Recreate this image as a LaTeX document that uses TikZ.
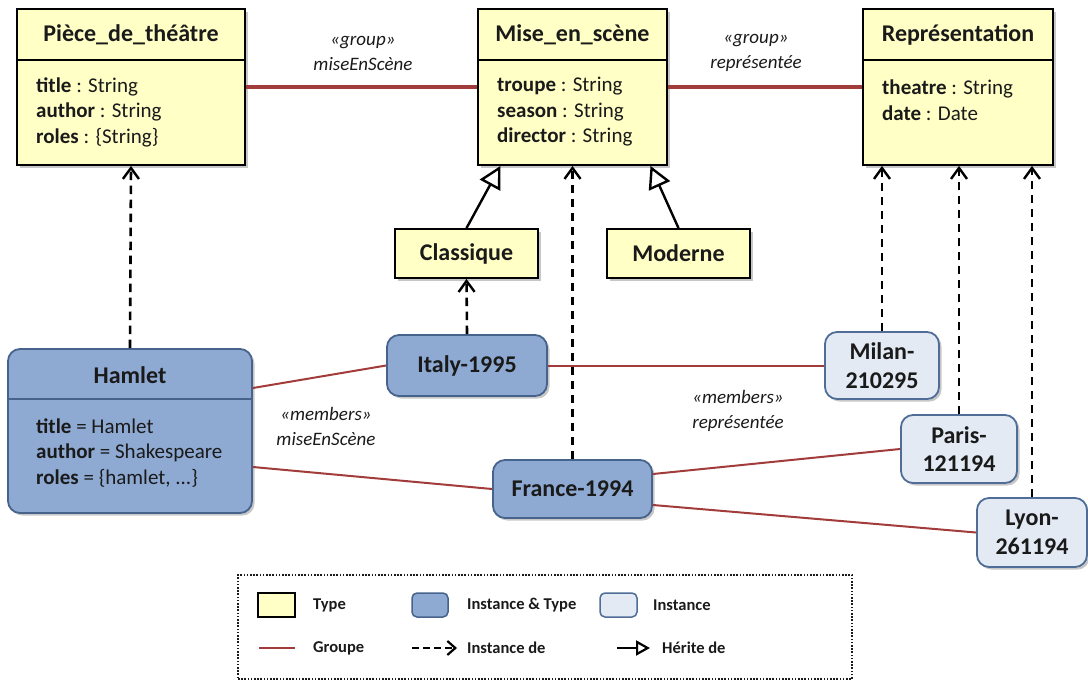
\documentclass[tikz,border=0pt]{standalone}
\usepackage{fontspec}
\setmainfont{Carlito}
\usetikzlibrary{arrows.meta,shadows}
\definecolor{typefill}{HTML}{FFFFC6}
\definecolor{itfill}{HTML}{8EAAD3}
\definecolor{itborder}{HTML}{46638C}
\definecolor{instfill}{HTML}{E3EAF4}
\definecolor{instborder}{HTML}{4F6D96}
\definecolor{grp}{HTML}{A23C3A}
\definecolor{txt}{HTML}{1A1A1A}
\begin{document}
\begin{tikzpicture}[x=1pt,y=-1pt,
  shd/.style={drop shadow={shadow xshift=2.5pt,shadow yshift=-2.5pt,opacity=0.22,fill=black}},
  typebox/.style={draw=black,line width=1.8pt,fill=typefill,inner sep=0pt,shd},
  itbox/.style={draw=itborder,line width=1.8pt,fill=itfill,rounded corners=12pt,inner sep=0pt,shd},
  instbox/.style={draw=instborder,line width=1.8pt,fill=instfill,rounded corners=12pt,inner sep=0pt,shd},
  titlefont/.style={font=\fontsize{24}{28.5}\selectfont\bfseries,text=txt,align=center},
  bodyfont/.style={font=\fontsize{21}{25.5}\selectfont,text=txt,align=left,anchor=west,inner sep=0pt},
  divider/.style={draw=#1,line width=1.8pt},
  grouplink/.style={draw=grp,line width=3.5pt},
  memberlink/.style={draw=grp,line width=2pt},
  instof/.style={draw=black,line width=2.6pt,dash pattern=on 8.5pt off 5.5pt,
    -{Straight Barb[length=11pt,width=16pt,line width=2.4pt]}},
  inherit/.style={draw=black,line width=2.4pt,
    -{Triangle[length=22pt,width=23pt,fill=white,line width=2.4pt]}},
  lbl/.style={font=\fontsize{19}{25}\selectfont\itshape,text=txt,align=center},
  legtext/.style={font=\fontsize{16.5}{20}\selectfont\bfseries,text=txt,anchor=west,inner sep=0pt},
]
\useasboundingbox (0,0) rectangle (1088,681);

% ---- Types ----
\node[typebox,minimum width=228pt,minimum height=156pt] (pdt) at (131,87) {};
\node[titlefont] (pdtT) at (131,35) {Pièce\_de\_théâtre};
\draw[divider=black] (pdt.west |- 0,60) -- (pdt.east |- 0,60);
\node[bodyfont] (pdtB) at (36,112) {\textbf{title} : String\\\textbf{author} : String\\\textbf{roles} : \{String\}};

\node[typebox,minimum width=189pt,minimum height=156pt] (mise) at (572.5,87) {};
\node[titlefont] (miseT) at (572.5,35) {Mise\_en\_scène};
\draw[divider=black] (mise.west |- 0,60) -- (mise.east |- 0,60);
\node[bodyfont] (miseB) at (497,112) {\textbf{troupe} : String\\\textbf{season} : String\\\textbf{director} : String};

\node[typebox,minimum width=190pt,minimum height=156pt] (rep) at (958,87) {};
\node[titlefont] (repT) at (958,35) {Représentation};
\draw[divider=black] (rep.west |- 0,60) -- (rep.east |- 0,60);
\node[bodyfont] (repB) at (882,100) {\textbf{theatre} : String\\\textbf{date} : Date};

\node[typebox,minimum width=143pt,minimum height=49pt,titlefont] (classique) at (466.5,253.5) {Classique};
\node[typebox,minimum width=143pt,minimum height=49pt,titlefont] (moderne) at (678.5,253.5) {Moderne};

% ---- Instances & types ----
\node[itbox,minimum width=244pt,minimum height=164pt] (hamlet) at (130,431) {};
\node[titlefont] (hamletT) at (130,375) {Hamlet};
\draw[divider=itborder] (hamlet.west |- 0,399) -- (hamlet.east |- 0,399);
\node[bodyfont] (hamletB) at (36,453) {\textbf{title} = Hamlet\\\textbf{author} = Shakespeare\\\textbf{roles} = \{hamlet, ...\}};

\node[itbox,minimum width=160pt,minimum height=61pt,titlefont] (italy) at (467,365.5) {Italy-1995};
\node[itbox,minimum width=159pt,minimum height=58pt,titlefont] (france) at (572.5,489) {France-1994};

% ---- Instances ----
\node[instbox,minimum width=114pt,minimum height=67pt,titlefont] (milan) at (882,365.5) {Milan-\\210295};
\node[instbox,minimum width=116pt,minimum height=68pt,titlefont] (paris) at (959,449) {Paris-\\121194};
\node[instbox,minimum width=110pt,minimum height=69pt,titlefont] (lyon) at (1032,532.5) {Lyon-\\261194};

% ---- Group links ----
\draw[grouplink] (pdt.east) -- (mise.west);
\draw[grouplink] (mise.east) -- (rep.west);
\node[lbl] (lblg1) at (363,53) {«group»\\miseEnScène};
\node[lbl] (lblg2) at (756,53) {«group»\\représentée};

\draw[memberlink] ([yshift=43pt]hamlet.east) -- (italy.west);
\draw[memberlink] ([yshift=-36pt]hamlet.east) -- (france.west);
\draw[memberlink] (italy.east) -- (milan.west);
\draw[memberlink] ([yshift=15pt]france.east) -- (paris.west);
\draw[memberlink] ([yshift=-16pt]france.east) -- (lyon.west);
\node[lbl] (lblm1) at (326,426) {«members»\\miseEnScène};
\node[lbl] (lblm2) at (738,411) {«members»\\représentée};

% ---- Instance-of ----
\draw[instof] (hamlet.north) -- (pdt.south);
\draw[instof] (italy.north) -- (classique.south);
\draw[instof] (france.north) -- (mise.south);
\draw[instof] (milan.north) -- (milan.north |- rep.south);
\draw[instof] (paris.north) -- (paris.north |- rep.south);
\draw[instof] (lyon.north) -- (lyon.north |- rep.south);

% ---- Inheritance ----
\draw[inherit] (classique.north) -- ([xshift=-72pt]mise.south);
\draw[inherit] (moderne.north) -- ([xshift=78pt]mise.south);

% ---- Legend ----
\node[draw=txt,line width=1.3pt,dash pattern=on 1.6pt off 1.6pt,minimum width=614pt,minimum height=104pt,inner sep=0pt] (legend) at (545,627) {};
\node[draw=black,line width=1.5pt,fill=typefill,minimum width=37pt,minimum height=24pt,inner sep=0pt] (lgType) at (276.5,605) {};
\node[legtext] (lgTypeT) at (313,605) {Type};
\node[draw=itborder,line width=1.5pt,fill=itfill,rounded corners=5pt,minimum width=36pt,minimum height=24pt,inner sep=0pt] (lgIT) at (430,605) {};
\node[legtext] (lgITT) at (467,605) {Instance \& Type};
\node[draw=instborder,line width=1.5pt,fill=instfill,rounded corners=5pt,minimum width=37pt,minimum height=24pt,inner sep=0pt] (lgI) at (618.5,605) {};
\node[legtext] (lgIT2) at (653,605) {Instance};

\coordinate (lgG1) at (259,648); \coordinate (lgG2) at (295,648);
\draw[memberlink] (lgG1) -- (lgG2);
\node[legtext] (lgGT) at (313,648) {Groupe};
\coordinate (lgD1) at (412,648); \coordinate (lgD2) at (457,648);
\draw[draw=black,line width=2.2pt,dash pattern=on 7pt off 4pt,-{Straight Barb[length=8pt,width=14pt,line width=2.2pt]}] (lgD1) -- (lgD2);
\node[legtext] (lgDT) at (467,648) {Instance de};
\coordinate (lgH1) at (617,648); \coordinate (lgH2) at (650,648);
\draw[draw=black,line width=2.2pt,-{Triangle[length=14pt,width=15pt,fill=white,line width=2.2pt]}] (lgH1) -- (lgH2);
\node[legtext] (lgHT) at (662,648) {Hérite de};
\end{tikzpicture}
\end{document}
